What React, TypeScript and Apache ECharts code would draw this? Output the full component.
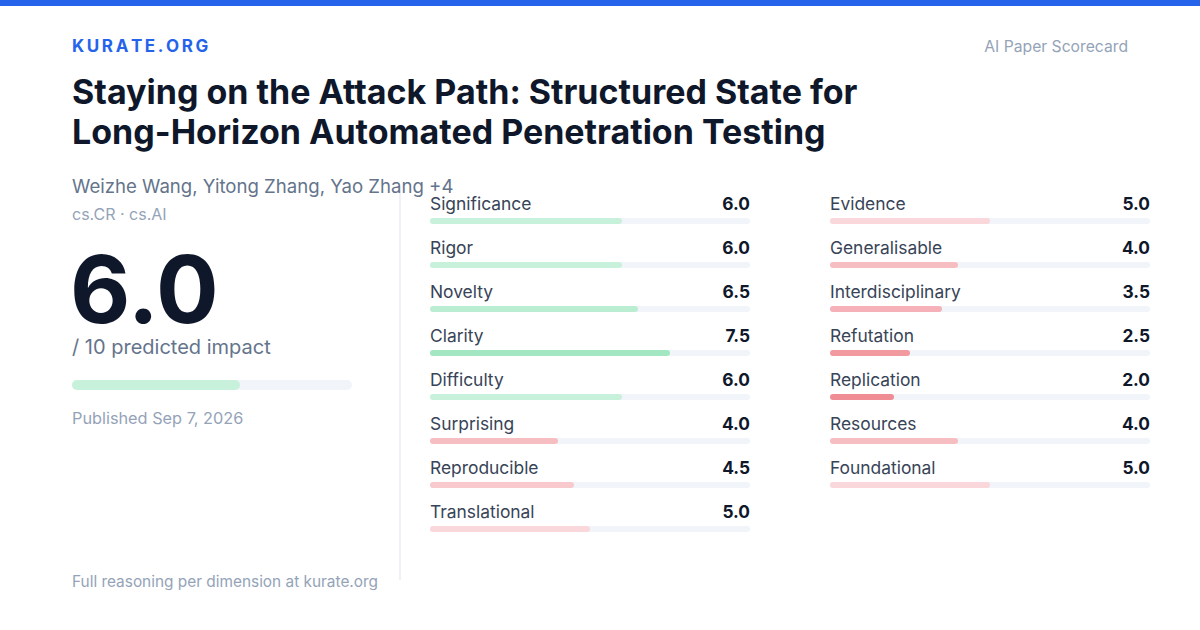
import React, { useEffect, useRef } from "react";
import * as echarts from "echarts";

const brand = "KURATE.ORG";
const cardType = "AI Paper Scorecard";
const titleLines = [
  "Staying on the Attack Path: Structured State for",
  "Long-Horizon Automated Penetration Testing",
];
const authors = "Weizhe Wang, Yitong Zhang, Yao Zhang +4";
const subjects = "cs.CR · cs.AI";
const overallScore = 6.0;
const scoreCaption = "/ 10 predicted impact";
const published = "Published Sep 7, 2026";
const footer = "Full reasoning per dimension at kurate.org";

const categoriesLeft = [
  "Significance",
  "Rigor",
  "Novelty",
  "Clarity",
  "Difficulty",
  "Surprising",
  "Reproducible",
  "Translational",
];
const valuesLeft = [6.0, 6.0, 6.5, 7.5, 6.0, 4.0, 4.5, 5.0];

const categoriesRight = [
  "Evidence",
  "Generalisable",
  "Interdisciplinary",
  "Refutation",
  "Replication",
  "Resources",
  "Foundational",
];
const valuesRight = [5.0, 4.0, 3.5, 2.5, 2.0, 4.0, 5.0];

const SCALE_MAX = 10;

const FONT = "Inter, 'Noto Sans', sans-serif";

function mix(base: number[], t: number) {
  const c = base.map((b) => Math.round(255 - t * (255 - b)));
  return `rgb(${c[0]},${c[1]},${c[2]})`;
}

function barColor(v: number) {
  if (v >= 5.5) {
    return mix([34, 197, 110], 0.25 + (v - 6) * 0.113);
  }
  return mix([232, 72, 85], 0.22 + (5 - v) * 0.137);
}

function spacedText(text: string, x: number, y: number, font: string, size: number, weight: number, spacing: number, color: string) {
  const canvas = document.createElement("canvas");
  const ctx = canvas.getContext("2d");
  const els: any[] = [];
  let cx = x;
  if (ctx) ctx.font = `${weight} ${size}px Inter`;
  for (const ch of text) {
    els.push({
      type: "text",
      x: cx,
      y,
      style: {
        text: ch,
        fill: color,
        fontFamily: font,
        fontSize: size,
        fontWeight: weight,
        textAlign: "left",
        textVerticalAlign: "middle",
      },
    });
    const w = ctx ? ctx.measureText(ch).width : size * 0.6;
    cx += w + spacing;
  }
  return els;
}

function txt(text: string, x: number, y: number, size: number, color: string, weight: number | string = 400, align = "left", lineHeight?: number) {
  return {
    type: "text",
    x,
    y,
    style: {
      text,
      fill: color,
      fontFamily: FONT,
      fontSize: size,
      fontWeight: weight,
      textAlign: align,
      textVerticalAlign: "middle",
      ...(lineHeight ? { lineHeight } : {}),
    },
  };
}

function dimSeries(idx: number, cats: string[], vals: number[]) {
  return [
    {
      type: "bar",
      xAxisIndex: idx,
      yAxisIndex: idx,
      data: cats.map(() => SCALE_MAX),
      barWidth: 6,
      barGap: "-100%",
      silent: true,
      itemStyle: { color: "#f1f5f9", borderRadius: 3 },
      label: {
        show: true,
        position: ["100%", -15],
        align: "right",
        verticalAlign: "middle",
        formatter: (p: any) => vals[p.dataIndex].toFixed(1),
        fontFamily: FONT,
        fontSize: 17.3,
        fontWeight: 700,
        color: "#0f172a",
      },
    },
    {
      type: "bar",
      xAxisIndex: idx,
      yAxisIndex: idx,
      data: vals.map((v) => ({ value: v, itemStyle: { color: barColor(v) } })),
      barWidth: 6,
      barGap: "-100%",
      silent: true,
      itemStyle: { borderRadius: 3 },
      label: {
        show: true,
        position: [0, -15],
        align: "left",
        verticalAlign: "middle",
        formatter: (p: any) => p.name,
        fontFamily: FONT,
        fontSize: 17.4,
        fontWeight: 400,
        color: "#384457",
      },
    },
  ];
}

export default function App() {
  const ref = useRef<HTMLDivElement>(null);

  useEffect(() => {
    document.body.style.margin = "0";
    if (!ref.current) return;
    const chart = echarts.init(ref.current, null, { renderer: "svg" });

    const rowH = 44;
    const top = 199;

    const option: any = {
      animation: false,
      backgroundColor: "#ffffff",
      grid: [
        { left: 430, top, width: 320, height: rowH * categoriesLeft.length },
        { left: 830, top, width: 320, height: rowH * categoriesRight.length },
        { left: 72, top: 375, width: 280, height: 20 },
      ],
      xAxis: [0, 1, 2].map((i) => ({
        type: "value",
        gridIndex: i,
        min: 0,
        max: SCALE_MAX,
        show: false,
      })),
      yAxis: [
        { type: "category", gridIndex: 0, data: categoriesLeft, inverse: true, show: false },
        { type: "category", gridIndex: 1, data: categoriesRight, inverse: true, show: false },
        { type: "category", gridIndex: 2, data: ["Impact"], show: false },
      ],
      series: [
        ...dimSeries(0, categoriesLeft, valuesLeft),
        ...dimSeries(1, categoriesRight, valuesRight),
        {
          type: "bar",
          xAxisIndex: 2,
          yAxisIndex: 2,
          data: [{ value: overallScore, itemStyle: { color: barColor(overallScore) } }],
          barWidth: 10,
          silent: true,
          showBackground: true,
          backgroundStyle: { color: "#f1f5f9", borderRadius: 5 },
          itemStyle: { borderRadius: 5 },
        },
      ],
      graphic: [
        { type: "rect", shape: { x: 0, y: 0, width: 1200, height: 6 }, style: { fill: "#2563eb" } },
        ...spacedText(brand, 72, 46, FONT, 17, 700, 2.6, "#2563eb"),
        txt(cardType, 1128, 46, 15.7, "#94a3b8", 400, "right"),
        txt(titleLines[0], 72, 91, 34, "#0f172a", 700),
        txt(titleLines[1], 72, 131, 34, "#0f172a", 700),
        {
          type: "line",
          shape: { x1: 400, y1: 190, x2: 400, y2: 580 },
          style: { stroke: "#eef2f6", lineWidth: 2 },
        },
        txt(authors, 72, 186, 18.6, "#64748b"),
        txt(subjects, 72, 214, 16, "#94a3b8"),
        txt(overallScore.toFixed(1), 70, 289, 93, "#0f172a", 700, "left", 70),
        txt(scoreCaption, 72, 347, 20, "#64748b"),
        txt(published, 72, 418, 16.3, "#94a3b8"),
        txt(footer, 72, 581, 15.4, "#94a3b8"),
      ],
    };

    chart.setOption(option);
    return () => chart.dispose();
  }, []);

  return <div ref={ref} style={{ width: 1200, height: 630 }} />;
}
